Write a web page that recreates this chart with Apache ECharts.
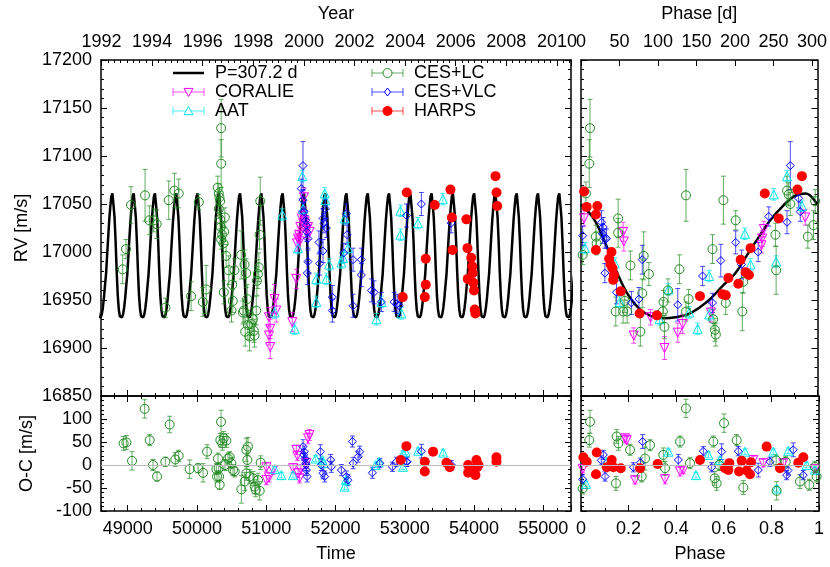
<!DOCTYPE html>
<html>
<head>
<meta charset="utf-8">
<script src="https://cdn.jsdelivr.net/npm/echarts@6/dist/echarts.min.js"></script>
<style>html,body{margin:0;padding:0;background:#fff}#chart{width:830px;height:567px}</style>
</head>
<body>
<div id="chart"></div>
<script>
var P = 307.2;
var T0 = 48488;

// Keplerian fit
var modelPhase = [0, 0.05, 0.1, 0.15, 0.2, 0.25, 0.3, 0.35, 0.4, 0.45, 0.5, 0.55, 0.6, 0.65, 0.7, 0.75, 0.8, 0.85, 0.9, 0.95, 1];
var modelRV = [17049, 17036, 17011, 16980, 16955, 16940, 16933, 16931, 16932, 16935, 16942, 16952, 16965, 16977, 16996, 17015, 17033, 17047, 17058, 17061, 17049];

// RV vs time: [time, RV, err]
var lcRV = [[48928,16982,15],[48976,17003,10],[49048,17049,19],[49251,17059,27],[49313,17033,15],[49376,17033,12],[49419,17029,15],[49545,16942,10],[49593,17054,20],[49675,17064,18],[49737,17061,15],[49916,16954,15],[50027,17052,8],[50085,16948,15],[50133,16961,25],[50301,17067,12],[50316,17061,10],[50325,17057,10],[50335,17053,10],[50350,17129,30],[50350,17092,25],[50316,17045,10],[50335,17034,10],[50345,17026,10],[50364,17018,10],[50350,17013,10],[50383,17009,10],[50393,17021,10],[50403,17036,10],[50422,16996,12],[50388,16958,12],[50460,16981,15],[50509,16966,12],[50518,16949,12],[50499,16939,12],[50542,16981,12],[50639,16997,25],[50687,16987,15],[50711,16978,15],[50726,16951,15],[50663,16937,12],[50677,16939,12],[50697,16917,15],[50735,16924,15],[50759,16912,15],[50783,16925,12],[50822,16918,12],[50832,16913,12],[50808,16930,12],[50856,16939,15],[50865,16970,15],[50880,16977,15],[50894,16984,15],[50904,17018,15],[50914,17053,25]];
var corRV = [[51039,16932,10],[51058,16920,10],[51039,16913,10],[51058,16901,12],[51121,16951,15],[51145,16939,12],[51376,16927,10],[51434,16972,10],[51458,17014,8],[51444,17009,8],[51482,17011,8],[51473,17018,8],[51492,17026,8],[51511,17035,8],[51530,17038,8],[51545,17057,10],[51555,17032,8],[51579,17023,8],[51603,17026,8],[51627,17021,8]];
var aatRV = [[51121,16937,6],[51232,17039,6],[51410,16920,6],[51458,17004,6],[51521,17079,6],[51530,17045,6],[51844,17061,6],[51853,17054,6],[51868,16972,6],[51907,16987,6],[51723,16948,6],[51723,16972,6],[52085,16989,6],[52109,16994,6],[52133,17035,6],[52181,17004,6],[52591,16930,6],[52663,16948,6],[52938,17018,6],[52938,17043,6],[52952,16936,6],[53190,17030,6],[53550,17055,6]];
var vlcRV = [[51531,17090,25],[51506,17066,10],[51531,17054,10],[51545,17042,10],[51569,17033,10],[51579,17028,10],[51588,17021,10],[51603,17014,10],[51603,16990,12],[51593,16978,12],[51820,17035,10],[51834,17030,10],[51853,17045,10],[51868,17025,10],[51820,17001,12],[51762,17010,12],[51772,16988,12],[51955,16953,12],[51955,16939,12],[52157,17040,10],[52167,17018,10],[52119,16999,10],[52254,16992,12],[52374,16992,12],[52254,16944,12],[52374,16976,12],[52519,16960,12],[52557,16958,12],[52663,16948,10],[52846,16948,10],[52890,16946,10],[52919,16944,10],[53025,17038,12],[53240,17050,12],[53670,17030,10]];
var harRV = [[52971,16953,2],[53029,17062,2],[53303,16993,2],[53303,16966,2],[53290,16953,2],[53433,17049,2],[53680,17036,2],[53690,17002,2],[53660,17065,2],[53890,17034,2],[53905,17004,2],[53910,16972,2],[53960,16994,2],[53975,16985,2],[53980,16978,2],[53990,16968,2],[54000,16960,2],[54010,16940,2],[54020,16936,2],[54310,17079,2],[54325,17062,2],[54335,17048,2]];

// O-C vs time: [time, O-C, err]
var lcOC = [[48942,47,15],[48981,49,15],[49063,9,20],[49245,122,20],[49318,54,12],[49366,0,12],[49424,-25,10],[49544,7,10],[49606,88,18],[49688,12,15],[49736,20,12],[49895,-9,20],[50016,-7,10],[50088,-17,20],[50146,29,15],[50280,-9,12],[50290,-25,12],[50304,14,12],[50314,-7,12],[50319,-25,12],[50328,-43,10],[50338,54,15],[50348,94,25],[50367,47,15],[50386,58,15],[50425,53,15],[50405,0,12],[50449,14,12],[50473,17,12],[50497,4,12],[50521,-11,12],[50545,-14,12],[50641,-53,30],[50689,-36,20],[50713,33,25],[50737,40,20],[50728,11,15],[50713,-18,15],[50761,-25,15],[50810,-29,15],[50834,-47,15],[50848,-54,15],[50882,-33,15],[50906,-56,20],[50920,5,15]];
var corOC = [[51002,-5,10],[51002,-33,10],[51041,-27,10],[51099,-11,10],[51387,-7,10],[51435,33,10],[51450,20,10],[51460,-18,10],[51480,-29,10],[51500,-10,10],[51604,58,12],[51625,65,12],[51580,4,10]];
var aatOC = [[51123,-9,6],[51219,-22,6],[51387,-22,6],[51714,14,6],[51811,11,6],[51830,4,6],[52133,-47,6],[52150,-33,6],[52581,0,6],[52630,7,6],[52975,25,6],[53010,29,6],[53193,31,6],[53554,27,6],[52975,-4,6]];
var vlcOC = [[51532,40,15],[51540,22,12],[51550,29,12],[51560,14,12],[51570,4,12],[51580,-11,12],[51590,-25,12],[51575,0,12],[51782,29,15],[51795,0,12],[51820,-18,12],[51844,-25,12],[51931,11,12],[51940,-4,12],[52085,-11,12],[52157,-25,12],[52180,-33,12],[52244,51,12],[52255,4,12],[52326,18,12],[52350,29,12],[52533,-17,12],[52640,4,10],[52822,-4,10],[52879,7,10],[53033,7,10],[53240,30,15],[53024,7,10],[53674,0,10]];
var harOC = [[52942,11,2],[53024,41,2],[53289,7,2],[53289,-14,2],[53409,29,2],[53602,5,2],[53650,-5,2],[53915,0,2],[53915,-17,2],[53950,-10,2],[54035,11,2],[54020,-22,2],[54045,-5,2],[54065,0,2],[54324,17,2],[54324,7,2]];

// RV vs phase: [phase, RV, err]
var lcPh = [[0.038,17129,30],[0.035,17092,25],[0.021,17061,12],[0.007,16997,10],[0.066,17009,12],[0.063,17016,12],[0.157,17035,20],[0.157,17020,15],[0.209,16986,15],[0.185,16949,12],[0.147,16938,15],[0.178,16938,12],[0.195,16938,12],[0.251,16917,15],[0.265,16996,25],[0.287,16977,12],[0.259,16957,15],[0.349,16948,12],[0.346,16938,12],[0.353,16922,12],[0.368,16960,12],[0.416,16982,15],[0.444,17059,27],[0.455,16951,10],[0.444,16938,10],[0.556,17003,15],[0.559,16930,10],[0.566,16919,12],[0.570,16914,12],[0.602,17054,25],[0.612,16947,12],[0.654,17033,10],[0.682,16938,20],[0.686,16969,12],[0.822,17018,12],[0.825,16981,25],[0.871,17064,15],[0.878,17060,12],[0.885,17050,12],[0.959,17016,12],[0.983,17028,15],[0.99,17053,12]];
var corPh = [[0.013,17035,8],[0.178,17021,10],[0.181,17011,10],[0.223,16913,8],[0.294,16932,8],[0.353,16900,12],[0.409,16916,10],[0.43,16925,10],[0.549,16937,10],[0.766,17014,8],[0.773,17024,8],[0.763,17007,8],[0.948,17036,8]];
var aatPh = [[0.017,17004,6],[0.143,16988,6],[0.164,16948,6],[0.332,16930,6],[0.37,16961,6],[0.458,16937,6],[0.493,16920,6],[0.542,16935,6],[0.542,16975,6],[0.693,17019,6],[0.717,16987,6],[0.815,17060,6],[0.825,16990,6],[0.871,17079,6],[0.934,17048,6]];
var vlcPh = [[0.007,17017,10],[0.087,17031,12],[0.094,17026,10],[0.091,17019,10],[0.101,17014,10],[0.108,17014,10],[0.101,16978,10],[0.15,16958,12],[0.213,16947,12],[0.245,16951,12],[0.259,16992,15],[0.409,16945,17],[0.514,16975,10],[0.556,16947,10],[0.591,16991,17],[0.654,17010,12],[0.679,16987,15],[0.749,17000,10],[0.794,17037,10],[0.871,17031,12],[0.885,17090,25],[0.92,17056,10],[0.927,17042,10]];
var harPh = [[0.013,17063,2],[0.024,17047,2],[0.063,17039,2],[0.069,17048,2],[0.063,17002,2],[0.129,17000,2],[0.119,16993,2],[0.125,16987,2],[0.133,16983,2],[0.139,16976,2],[0.136,16971,2],[0.168,16959,2],[0.248,16936,2],[0.321,16934,2],[0.503,16954,2],[0.598,16956,2],[0.612,16955,2],[0.623,16973,2],[0.665,16967,2],[0.675,16992,2],[0.696,16979,2],[0.710,16976,2],[0.717,17004,2],[0.777,17061,2],[0.836,17035,2],[0.915,17065,2],[0.934,17079,2]];

// O-C vs phase: [phase, O-C, err]
var lcPhOC = [[0.007,-51,12],[0.038,94,25],[0.035,54,15],[0.150,62,15],[0.157,47,15],[0.206,33,12],[0.147,-40,15],[0.255,-25,12],[0.269,14,25],[0.290,43,12],[0.346,22,15],[0.353,-7,15],[0.416,51,12],[0.441,123,20],[0.458,4,12],[0.556,51,12],[0.562,-29,15],[0.570,-40,15],[0.58,0,12],[0.601,91,20],[0.654,54,12],[0.682,-49,15],[0.822,-56,20],[0.82,10,12],[0.86,7,12],[0.920,-36,15],[0.959,-43,12],[0.983,-4,12],[0.99,-25,12]];
var corPhOC = [[0.007,-9,8],[0.185,58,8],[0.192,54,8],[0.227,-33,8],[0.353,-31,10],[0.416,-14,10],[0.43,-11,8],[0.724,11,8],[0.766,4,8],[0.85,4,8],[0.983,-9,8]];
var aatPhOC = [[0.021,-41,6],[0.108,7,6],[0.367,29,6],[0.483,-22,6],[0.535,22,6],[0.584,11,6],[0.689,29,6],[0.808,29,6],[0.822,-51,6],[0.871,31,6],[0.948,0,6],[0.983,-10,6]];
var vlcPhOC = [[0.007,-31,10],[0.094,22,10],[0.101,-25,10],[0.085,10,10],[0.22,-5,10],[0.259,51,15],[0.25,5,10],[0.409,11,12],[0.514,30,10],[0.549,-5,10],[0.591,29,17],[0.661,30,10],[0.745,-11,15],[0.794,7,10],[0.864,-22,10],[0.87,-12,10],[0.892,33,15],[0.934,-22,10]];
var harPhOC = [[0.010,17,2],[0.024,7,2],[0.063,-20,2],[0.066,27,2],[0.108,-5,2],[0.129,11,2],[0.136,-5,2],[0.167,-7,2],[0.248,-7,2],[0.322,2,2],[0.5,11,2],[0.605,-7,2],[0.619,-11,2],[0.623,4,2],[0.664,-14,2],[0.675,9,2],[0.696,-12,2],[0.710,-20,2],[0.714,6,2],[0.78,40,2],[0.836,-7,2],[0.913,5,2],[0.934,17,2]];

// repeat the fitted curve over the time axis
var modelTime = [];
for (var k = 0; T0 + k * P < 55500; k++) {
  for (var i = 0; i < modelPhase.length - 1; i++) {
    modelTime.push([T0 + (k + modelPhase[i]) * P, modelRV[i]]);
  }
}
var modelFold = modelPhase.map(function(p, i) { return [p, modelRV[i]]; });

var insts = [
  {name: 'CORALIE', color: '#ff00ff', symbol: 'triangle', rot: 180, size: 9, fill: false, rv: corRV, oc: corOC, ph: corPh, phoc: corPhOC},
  {name: 'AAT', color: '#00e5ee', symbol: 'triangle', rot: 0, size: 9, fill: false, rv: aatRV, oc: aatOC, ph: aatPh, phoc: aatPhOC},
  {name: 'CES+LC', color: '#228b22', symbol: 'circle', rot: 0, size: 9, fill: false, rv: lcRV, oc: lcOC, ph: lcPh, phoc: lcPhOC},
  {name: 'CES+VLC', color: '#0000ff', symbol: 'diamond', rot: 0, size: 8, fill: false, rv: vlcRV, oc: vlcOC, ph: vlcPh, phoc: vlcPhOC},
  {name: 'HARPS', color: '#ff0000', symbol: 'circle', rot: 0, size: 10, fill: true, rv: harRV, oc: harOC, ph: harPh, phoc: harPhOC}
];

var FONT = 'Liberation Sans';

function errSeries(data, color, xi, yi) {
  return {
    type: 'custom', xAxisIndex: xi, yAxisIndex: yi, data: data, clip: true, silent: true, z: 2,
    renderItem: function(params, api) {
      var x = api.value(0), y = api.value(1), e = api.value(2);
      var a = api.coord([x, y - e]), b = api.coord([x, y + e]);
      var st = {stroke: color, lineWidth: 1, opacity: 0.7};
      return {type: 'group', children: [
        {type: 'line', shape: {x1: a[0], y1: a[1], x2: b[0], y2: b[1]}, style: st},
        {type: 'line', shape: {x1: a[0] - 2.5, y1: a[1], x2: a[0] + 2.5, y2: a[1]}, style: st},
        {type: 'line', shape: {x1: b[0] - 2.5, y1: b[1], x2: b[0] + 2.5, y2: b[1]}, style: st}
      ]};
    }
  };
}

function symSeries(o, data, xi, yi) {
  return {
    type: 'scatter', xAxisIndex: xi, yAxisIndex: yi, data: data, clip: true, silent: true, z: 3,
    symbol: o.symbol, symbolSize: o.size, symbolRotate: o.rot,
    itemStyle: {color: o.fill ? o.color : 'rgba(0,0,0,0)', borderColor: o.color, borderWidth: o.fill ? 0 : 1, opacity: 1}
  };
}

var zeroLine = {silent: true, symbol: 'none', label: {show: false}, lineStyle: {color: '#bbbbbb', width: 1, type: 'solid'}, data: [{yAxis: 0}]};

var series = [
  {type: 'line', xAxisIndex: 0, yAxisIndex: 0, data: modelTime, showSymbol: false, clip: true, silent: true, z: 1,
   lineStyle: {color: '#000', width: 2.5}},
  {type: 'line', xAxisIndex: 2, yAxisIndex: 2, data: modelFold, showSymbol: false, smooth: 0.4, clip: true, silent: true, z: 1,
   lineStyle: {color: '#000', width: 2.5}}
];
insts.forEach(function(o, n) {
  series.push(errSeries(o.rv, o.color, 0, 0));
  series.push(symSeries(o, o.rv, 0, 0));
  series.push(errSeries(o.ph, o.color, 2, 2));
  series.push(symSeries(o, o.ph, 2, 2));
  series.push(errSeries(o.oc, o.color, 4, 4));
  var s1 = symSeries(o, o.oc, 4, 4);
  series.push(s1);
  series.push(errSeries(o.phoc, o.color, 6, 6));
  var s2 = symSeries(o, o.phoc, 6, 6);
  series.push(s2);
  if (n === 0) { s1.markLine = zeroLine; s2.markLine = zeroLine; }
});

function plain(v) { return String(+v.toFixed(4)); }

function ax(o) {
  var a = {
    type: 'value', gridIndex: o.grid, position: o.pos, min: o.min, max: o.max,
    axisLine: {show: true, onZero: false, lineStyle: {color: '#000', width: 1.5}},
    axisTick: {show: true, inside: true, length: 6, lineStyle: {color: '#000', width: 1}},
    minorTick: {show: o.minor > 0, splitNumber: o.minor || 5, length: 3, lineStyle: {color: '#000', width: 1}},
    splitLine: {show: false},
    axisLabel: {show: !!o.label, color: '#000', fontSize: 18, fontFamily: FONT, margin: 9, formatter: plain,
                showMinLabel: o.showMin, showMaxLabel: o.showMax}
  };
  if (o.interval) a.interval = o.interval;
  if (o.split) a.splitNumber = o.split;
  if (o.name) {
    a.name = o.name; a.nameLocation = 'middle'; a.nameGap = o.gap;
    a.nameTextStyle = {color: '#000', fontSize: 18, fontFamily: FONT};
  }
  return a;
}

var tMin = 48615, tMax = 55400;
var yMin = 1992 + (tMin - 48622.5) / 365.25, yMax = 1992 + (tMax - 48622.5) / 365.25;

var option = {
  animation: false,
  backgroundColor: '#fff',
  grid: [
    {left: 101, top: 56, width: 470, height: 340},
    {left: 581, top: 56, width: 238, height: 340},
    {left: 101, top: 396, width: 470, height: 115},
    {left: 581, top: 396, width: 238, height: 115}
  ],
  xAxis: [
    ax({grid: 0, pos: 'bottom', min: tMin, max: tMax, split: 7, minor: 5}),
    ax({grid: 0, pos: 'top', min: yMin, max: yMax, split: 9, minor: 8, label: true, showMin: false, showMax: false, name: 'Year', gap: 37}),
    ax({grid: 1, pos: 'bottom', min: 0, max: 1, interval: 0.2, minor: 2}),
    ax({grid: 1, pos: 'top', min: 0, max: P, interval: 50, minor: 0, label: true, showMax: false, name: 'Phase [d]', gap: 37}),
    ax({grid: 2, pos: 'bottom', min: tMin, max: tMax, split: 7, minor: 5, label: true, showMin: false, showMax: false, name: 'Time', gap: 34}),
    ax({grid: 2, pos: 'top', min: tMin, max: tMax, split: 7, minor: 5}),
    ax({grid: 3, pos: 'bottom', min: 0, max: 1, interval: 0.2, minor: 2, label: true, name: 'Phase', gap: 34}),
    ax({grid: 3, pos: 'top', min: 0, max: 1, interval: 0.2, minor: 2})
  ],
  yAxis: [
    ax({grid: 0, pos: 'left', min: 16850, max: 17200, interval: 50, minor: 5, label: true, name: 'RV [m/s]', gap: 65}),
    ax({grid: 0, pos: 'right', min: 16850, max: 17200, interval: 50, minor: 5}),
    ax({grid: 1, pos: 'left', min: 16850, max: 17200, interval: 50, minor: 5}),
    ax({grid: 1, pos: 'right', min: 16850, max: 17200, interval: 50, minor: 5}),
    ax({grid: 2, pos: 'left', min: -100, max: 150, interval: 50, minor: 5, label: true, showMax: false, name: 'O-C [m/s]', gap: 65}),
    ax({grid: 2, pos: 'right', min: -100, max: 150, interval: 50, minor: 5}),
    ax({grid: 3, pos: 'left', min: -100, max: 150, interval: 50, minor: 5}),
    ax({grid: 3, pos: 'right', min: -100, max: 150, interval: 50, minor: 5})
  ],
  series: series
};

// legend drawn gnuplot-style: error-bar sample + symbol
function legendItem(x, y, o) {
  var els = [];
  var st = {stroke: o.color, lineWidth: 1, opacity: 0.7};
  els.push({type: 'line', shape: {x1: x, y1: y, x2: x + 31, y2: y}, style: st});
  els.push({type: 'line', shape: {x1: x, y1: y - 4, x2: x, y2: y + 4}, style: st});
  els.push({type: 'line', shape: {x1: x + 31, y1: y - 4, x2: x + 31, y2: y + 4}, style: st});
  var cx = x + 15.5, r = o.size / 2;
  var sty = {fill: o.fill ? o.color : '#fff', stroke: o.fill ? null : o.color, lineWidth: 1};
  if (o.symbol === 'circle') {
    els.push({type: 'circle', shape: {cx: cx, cy: y, r: r}, style: sty});
  } else if (o.symbol === 'diamond') {
    els.push({type: 'polygon', shape: {points: [[cx, y - r], [cx + r * 0.75, y], [cx, y + r], [cx - r * 0.75, y]]}, style: sty});
  } else if (o.rot === 180) {
    els.push({type: 'polygon', shape: {points: [[cx - r, y - r * 0.8], [cx + r, y - r * 0.8], [cx, y + r]]}, style: sty});
  } else {
    els.push({type: 'polygon', shape: {points: [[cx - r, y + r * 0.8], [cx + r, y + r * 0.8], [cx, y - r]]}, style: sty});
  }
  els.push({type: 'text', x: x + 42, y: y, style: {text: o.name, fill: '#000', font: '18px ' + FONT, verticalAlign: 'middle'}});
  return els;
}
var legendEls = [
  {type: 'line', shape: {x1: 173, y1: 73, x2: 204, y2: 73}, style: {stroke: '#000', lineWidth: 2.5}},
  {type: 'text', x: 215, y: 73, style: {text: 'P=307.2 d', fill: '#000', font: '18px ' + FONT, verticalAlign: 'middle'}}
];
legendEls = legendEls.concat(legendItem(173, 92, insts[0]), legendItem(173, 111, insts[1]),
  legendItem(372, 73, insts[2]), legendItem(372, 92, insts[3]), legendItem(372, 111, insts[4]));
option.graphic = legendEls.map(function(e) { e.z = 100; return e; });

var chart = echarts.init(document.getElementById('chart'));
chart.setOption(option);
</script>
</body>
</html>
